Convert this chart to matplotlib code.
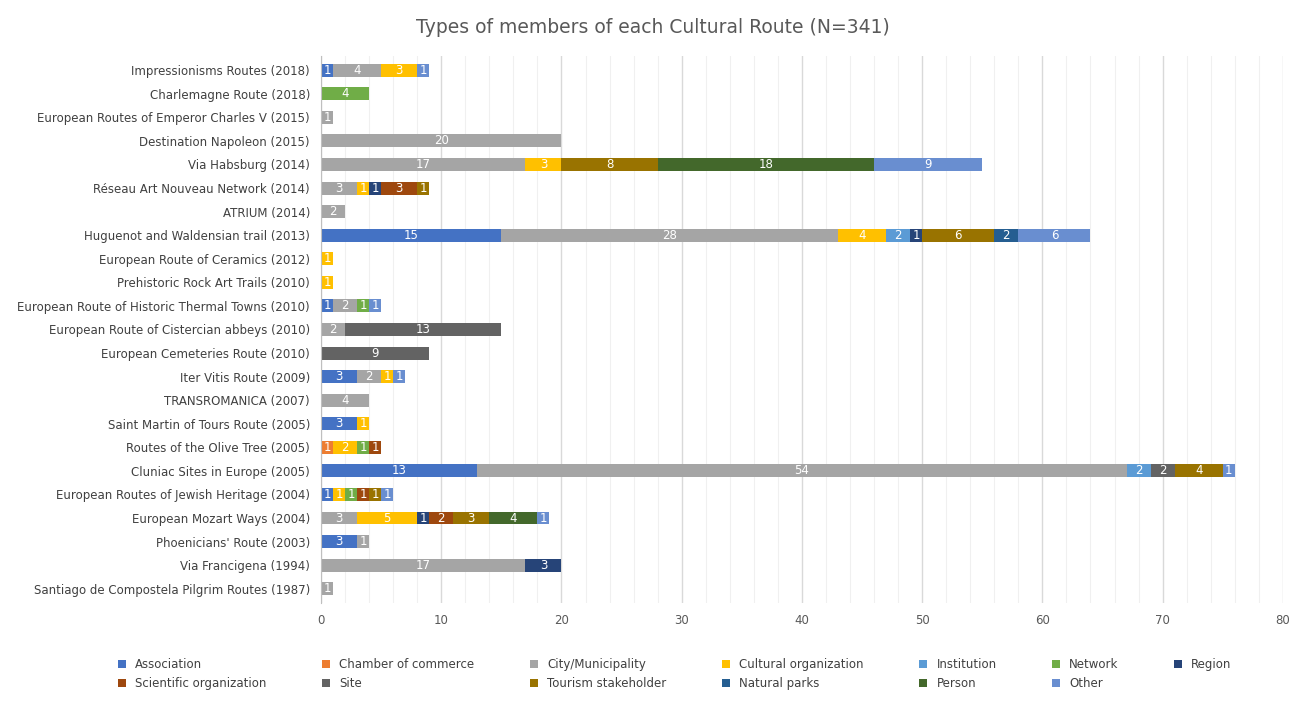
import numpy as np, matplotlib
matplotlib.use('Agg')
import matplotlib.pyplot as plt

routes = ['Impressionisms Routes (2018)', 'Charlemagne Route (2018)',
          'European Routes of Emperor Charles V (2015)', 'Destination Napoleon (2015)',
          'Via Habsburg (2014)', 'Réseau Art Nouveau Network (2014)', 'ATRIUM (2014)',
          'Huguenot and Waldensian trail (2013)', 'European Route of Ceramics (2012)',
          'Prehistoric Rock Art Trails (2010)', 'European Route of Historic Thermal Towns (2010)',
          'European Route of Cistercian abbeys (2010)', 'European Cemeteries Route (2010)',
          'Iter Vitis Route (2009)', 'TRANSROMANICA (2007)', 'Saint Martin of Tours Route (2005)',
          'Routes of the Olive Tree (2005)', 'Cluniac Sites in Europe (2005)',
          'European Routes of Jewish Heritage (2004)', 'European Mozart Ways (2004)',
          "Phoenicians' Route (2003)", 'Via Francigena (1994)',
          'Santiago de Compostela Pilgrim Routes (1987)']

types = ['Association', 'Chamber of commerce', 'City/Municipality', 'Cultural organization',
         'Institution', 'Network', 'Region', 'Scientific organization', 'Site',
         'Tourism stakeholder', 'Natural parks', 'Person', 'Other']
colors = ['#4472C4', '#ED7D31', '#A5A5A5', '#FFC000', '#5B9BD5', '#70AD47', '#264478',
          '#9E480E', '#636363', '#997300', '#255E91', '#43682B', '#698ED0']

# rows follow routes; columns follow types
counts = [
    [1, 0, 4, 3, 0, 0, 0, 0, 0, 0, 0, 0, 1],
    [0, 0, 0, 0, 0, 4, 0, 0, 0, 0, 0, 0, 0],
    [0, 0, 1, 0, 0, 0, 0, 0, 0, 0, 0, 0, 0],
    [0, 0, 20, 0, 0, 0, 0, 0, 0, 0, 0, 0, 0],
    [0, 0, 17, 3, 0, 0, 0, 0, 0, 8, 0, 18, 9],
    [0, 0, 3, 1, 0, 0, 1, 3, 0, 1, 0, 0, 0],
    [0, 0, 2, 0, 0, 0, 0, 0, 0, 0, 0, 0, 0],
    [15, 0, 28, 4, 2, 0, 1, 0, 0, 6, 2, 0, 6],
    [0, 0, 0, 1, 0, 0, 0, 0, 0, 0, 0, 0, 0],
    [0, 0, 0, 1, 0, 0, 0, 0, 0, 0, 0, 0, 0],
    [1, 0, 2, 0, 0, 1, 0, 0, 0, 0, 0, 0, 1],
    [0, 0, 2, 0, 0, 0, 0, 0, 13, 0, 0, 0, 0],
    [0, 0, 0, 0, 0, 0, 0, 0, 9, 0, 0, 0, 0],
    [3, 0, 2, 1, 0, 0, 0, 0, 0, 0, 0, 0, 1],
    [0, 0, 4, 0, 0, 0, 0, 0, 0, 0, 0, 0, 0],
    [3, 0, 0, 1, 0, 0, 0, 0, 0, 0, 0, 0, 0],
    [0, 1, 0, 2, 0, 1, 0, 1, 0, 0, 0, 0, 0],
    [13, 0, 54, 0, 2, 0, 0, 0, 2, 4, 0, 0, 1],
    [1, 0, 0, 1, 0, 1, 0, 1, 0, 1, 0, 0, 1],
    [0, 0, 3, 5, 0, 0, 1, 2, 0, 3, 0, 4, 1],
    [3, 0, 1, 0, 0, 0, 0, 0, 0, 0, 0, 0, 0],
    [0, 0, 17, 0, 0, 0, 3, 0, 0, 0, 0, 0, 0],
    [0, 0, 1, 0, 0, 0, 0, 0, 0, 0, 0, 0, 0],
]

data = np.array(counts, dtype=float)
y = np.arange(len(routes))[::-1]

fig = plt.figure(figsize=(13.05, 7.01), dpi=100)
ax = fig.add_axes([0.246, 0.14, 0.737, 0.78])
left = np.zeros(len(routes))
for j, t in enumerate(types):
    vals = data[:, j]
    ax.barh(y, vals, left=left, height=0.55, color=colors[j], label=t)
    for i, v in enumerate(vals):
        if v > 0:
            ax.text(left[i] + v / 2, y[i], f'{int(v)}', ha='center', va='center',
                    color='white', fontsize=8.5)
    left += vals

ax.set_xlim(0, 80)
ax.set_ylim(-0.6, len(routes) - 0.4)
ax.set_xticks(range(0, 81, 10))
ax.set_xticks(range(0, 81, 2), minor=True)
ax.grid(axis='x', which='major', color='#D9D9D9', lw=1)
ax.grid(axis='x', which='minor', color='#F0F0F0', lw=0.8)
ax.set_axisbelow(True)
ax.set_yticks(y)
ax.set_yticklabels(routes, fontsize=8.5, color='#404040')
ax.tick_params(axis='x', labelsize=8.5, colors='#595959', length=0, pad=8)
ax.tick_params(axis='x', which='minor', length=0)
ax.tick_params(axis='y', length=0, pad=8)
for s in ['top', 'right', 'bottom']:
    ax.spines[s].set_visible(False)
ax.spines['left'].set_color('#BFBFBF')

fig.suptitle('Types of members of each Cultural Route (N=341)', fontsize=13.5,
             color='#595959', y=0.975)

# legend filled row by row like the original
handles, labels = ax.get_legend_handles_labels()
order = []
for k in range(7):
    order.append(k)
    if k + 7 < len(types):
        order.append(k + 7)
fig.legend([handles[k] for k in order], [labels[k] for k in order],
           loc='lower left', bbox_to_anchor=(0.082, 0.0, 0.87, 0.1), mode='expand',
           ncol=7, frameon=False, fontsize=8.5, handlelength=0.7, handleheight=0.7,
           labelcolor='#404040')
fig.savefig('out.png', dpi=100)
